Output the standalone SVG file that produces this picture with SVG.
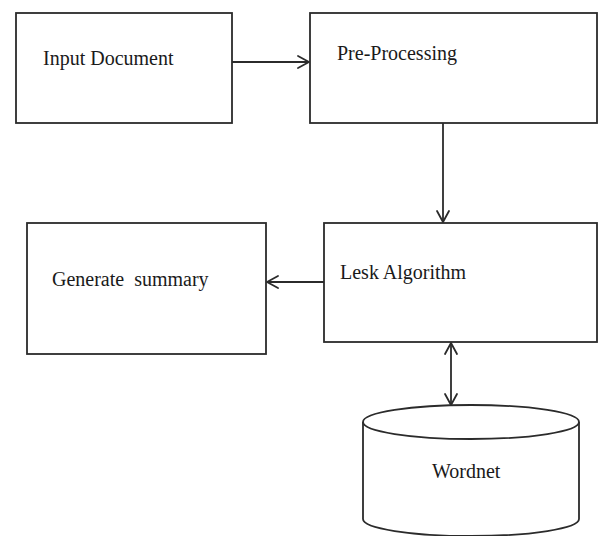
<svg xmlns="http://www.w3.org/2000/svg" width="598" height="536" viewBox="0 0 598 536">
<style>
.box{fill:#fff;stroke:#2b2b2b;stroke-width:1.8}
.lbl{font-family:'Liberation Serif','Times New Roman',serif;font-size:20px;fill:#1a1a1a}
.conn{stroke:#2b2b2b;stroke-width:1.8;fill:none}
.head{stroke:#2b2b2b;stroke-width:1.8;fill:none;stroke-linecap:round;stroke-linejoin:round}
</style>
<rect width="598" height="536" fill="#fff"/>
<g id="input-document">
<rect class="box" x="16" y="13" width="216" height="110"/>
<text class="lbl" x="43" y="65" font-family="Liberation Serif, serif">Input Document</text>
</g>
<g id="pre-processing">
<rect class="box" x="310" y="13" width="287" height="110"/>
<text class="lbl" x="337" y="60" font-family="Liberation Serif, serif">Pre-Processing</text>
</g>
<g id="generate-summary">
<rect class="box" x="27" y="223" width="239" height="131"/>
<text class="lbl" x="52" y="286" font-family="Liberation Serif, serif" xml:space="preserve">Generate  summary</text>
</g>
<g id="lesk-algorithm">
<rect class="box" x="324" y="223" width="273" height="119"/>
<text class="lbl" x="340" y="279" font-family="Liberation Serif, serif">Lesk Algorithm</text>
</g>
<g id="wordnet">
<path class="box" d="M363,422 L363,519 A108,17 0 0 0 579,519 L579,422"/>
<ellipse class="box" cx="471" cy="422" rx="108" ry="17"/>
<text class="lbl" x="432" y="478" font-family="Liberation Serif, serif">Wordnet</text>
</g>
<g id="connectors">
<line class="conn" x1="232" y1="62" x2="309" y2="62"/>
<polyline class="head" points="298,56 309,62 298,68"/>
<line class="conn" x1="443" y1="123" x2="443" y2="222"/>
<polyline class="head" points="437,211 443,222 449,211"/>
<line class="conn" x1="324" y1="282" x2="267" y2="282"/>
<polyline class="head" points="278,276 267,282 278,288"/>
<line class="conn" x1="451" y1="343" x2="451" y2="405"/>
<polyline class="head" points="445,354 451,343 457,354"/>
<polyline class="head" points="445,394 451,405 457,394"/>
</g>
</svg>
